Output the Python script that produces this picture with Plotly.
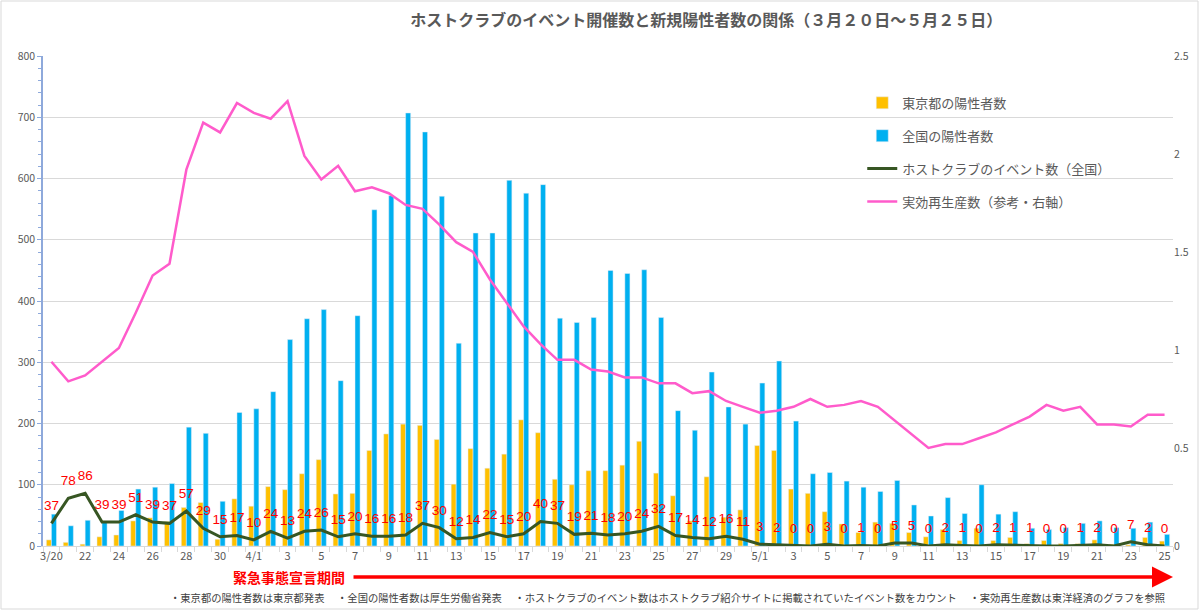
import plotly.graph_objects as go

# ---- data ----
dates = [f"3/{d}" for d in range(20, 32)] + [f"4/{d}" for d in range(1, 31)] + [f"5/{d}" for d in range(1, 26)]

tick_labels = ["3/20", "", "22", "", "24", "", "26", "", "28", "", "30", "",
               "4/1", "", "3", "", "5", "", "7", "", "9", "", "11", "", "13", "", "15", "",
               "17", "", "19", "", "21", "", "23", "", "25", "", "27", "", "29", "",
               "5/1", "", "3", "", "5", "", "7", "", "9", "", "11", "", "13", "", "15", "",
               "17", "", "19", "", "21", "", "23", "", "25"]

tokyo = [10, 6, 3, 15, 18, 41, 46, 40, 63, 71, 11, 77,
         65, 97, 92, 118, 141, 85, 86, 156, 183, 199, 197, 174, 101, 159, 127, 150, 206, 185,
         109, 100, 123, 123, 132, 171, 119, 82, 41, 113, 47, 59,
         164, 156, 93, 86, 56, 36, 22, 39, 37, 22, 15, 27, 9, 29, 9, 14, 4, 9, 4, 4, 10, 3, 2, 14, 8]

national = [52, 33, 42, 39, 58, 93, 96, 102, 194, 184, 73, 218,
            224, 252, 337, 371, 386, 270, 376, 549, 572, 707, 676, 571, 331, 511, 511, 597, 576, 590,
            372, 365, 373, 450, 445, 451, 373, 221, 189, 284, 227, 199,
            266, 302, 204, 118, 120, 106, 96, 89, 107, 67, 49, 79, 53, 100, 52, 56, 29, 27, 30, 37,
            41, 30, 29, 39, 19]

events = [37, 78, 86, 39, 39, 51, 39, 37, 57, 29, 15, 17,
          10, 24, 13, 24, 26, 15, 20, 16, 16, 18, 37, 30, 12, 14, 22, 15, 20, 40, 37, 19,
          21, 18, 20, 24, 32, 17, 14, 12, 16, 11,
          3, 2, 0, 0, 3, 0, 1, 0, 5, 5, 0, 2, 1, 0, 2, 1, 1, 0, 0, 1, 2, 0, 7, 2, 0]

rt = [0.94, 0.84, 0.87, 0.94, 1.01, 1.19, 1.38, 1.44, 1.92, 2.16, 2.11, 2.26,
      2.21, 2.18, 2.27, 1.99, 1.87, 1.94, 1.81, 1.83, 1.80, 1.74, 1.72, 1.64, 1.55, 1.50,
      1.36, 1.24, 1.12, 1.03, 0.95, 0.95, 0.90, 0.89, 0.86, 0.86, 0.83, 0.83, 0.78, 0.79, 0.74, 0.71,
      0.68, 0.69, 0.71, 0.75, 0.71, 0.72, 0.74, 0.71, 0.64, 0.57, 0.50, 0.52, 0.52, 0.55, 0.58,
      0.62, 0.66, 0.72, 0.69, 0.71, 0.62, 0.62, 0.61, 0.67, 0.67]

FONT = "Noto Sans CJK JP"
GRAY = "#595959"

fig = go.Figure()
fig.add_trace(go.Bar(x=dates, y=tokyo, name="東京都の陽性者数", marker_color="#FFC000",
                     legendgroup="a"))
fig.add_trace(go.Bar(x=dates, y=national, name="全国の陽性者数", marker_color="#00B0F0",
                     legendgroup="b"))
fig.add_trace(go.Scatter(x=dates, y=events, name="ホストクラブのイベント数（全国）",
                         mode="lines+markers+text", line=dict(color="#375623", width=3),
                         marker=dict(size=14, color="rgba(0,0,0,0)"),
                         text=[str(v) for v in events], textposition="top center",
                         textfont=dict(color="#FF0000", size=13.5, family="Liberation Sans"),
                         cliponaxis=False, legendgroup="c"))
fig.add_trace(go.Scatter(x=dates, y=rt, name="実効再生産数（参考・右軸）", yaxis="y2",
                         mode="lines", line=dict(color="#FF5BCB", width=2.5),
                         legendgroup="d"))

fig.update_layout(
    width=1200, height=612,
    margin=dict(l=43, r=27, t=56, b=66),
    paper_bgcolor="white", plot_bgcolor="white",
    font=dict(family=FONT, color=GRAY),
    barmode="group", bargap=0.4, bargroupgap=0,
    showlegend=True,
    legend=dict(x=0.725, y=0.935, xanchor="left", yanchor="top",
                font=dict(size=13, color=GRAY, family=FONT),
                tracegroupgap=13, bgcolor="rgba(0,0,0,0)", itemwidth=30),
    title=dict(text="<b>ホストクラブのイベント開催数と新規陽性者数の関係（３月２０日～５月２５日）</b>",
               x=0.587, xref="paper", xanchor="center", y=0.967, yref="container", yanchor="middle",
               font=dict(size=16, color=GRAY, family=FONT)),
    xaxis=dict(type="category", categoryorder="array", categoryarray=dates,
               tickmode="array", tickvals=dates, ticktext=tick_labels, tickangle=0,
               tickson="boundaries", ticks="outside", ticklen=5, tickcolor="#D9D9D9",
               showline=True, linecolor="#D9D9D9", linewidth=1, showgrid=False, automargin=False,
               tickfont=dict(size=11, color=GRAY), range=[-0.5, 66.5]),
    yaxis=dict(range=[0, 800], dtick=100, showgrid=True, gridcolor="#D9D9D9", gridwidth=1,
               showline=True, linecolor="#8EA9DB", linewidth=1.5, automargin=False,
               ticks="outside", ticklen=4, tickcolor="#8EA9DB",
               minor=dict(dtick=20, ticks="outside", ticklen=3, tickcolor="#8EA9DB", showgrid=False),
               tickfont=dict(size=10.5, color=GRAY), zeroline=False),
    yaxis2=dict(range=[0, 2.5], dtick=0.5, overlaying="y", side="right", showgrid=False,
                showline=False, zeroline=False, automargin=False,
                tickfont=dict(size=10.5, color=GRAY)),
)

# chart border
fig.add_shape(type="rect", xref="paper", yref="paper",
              x0=-42 / 1130, x1=1155 / 1130, y0=-63 / 490, y1=545 / 490,
              line=dict(color="#D9D9D9", width=1), fillcolor="rgba(0,0,0,0)", layer="below")

# emergency period arrow
fig.add_annotation(xref="paper", yref="paper", x=(1173 - 43) / 1130, y=-31 / 490,
                   ax=-(1173 - 352), ay=0, axref="pixel", ayref="pixel",
                   showarrow=True, arrowhead=2, arrowsize=1.2, arrowwidth=3.5,
                   arrowcolor="#FF0000", text="")
fig.add_annotation(xref="paper", yref="paper", x=(347 - 43) / 1130, y=-31 / 490,
                   xanchor="right", yanchor="middle", showarrow=False,
                   text="<b>緊急事態宣言期間</b>", font=dict(size=14, color="#FF0000", family=FONT))

# footnote
fig.add_annotation(xref="paper", yref="paper", x=(667 - 43) / 1130, y=-51 / 490,
                   xanchor="center", yanchor="middle", showarrow=False,
                   text="・東京都の陽性者数は東京都発表　 ・全国の陽性者数は厚生労働省発表　 "
                        "・ホストクラブのイベント数はホストクラブ紹介サイトに掲載されていたイベント数をカウント　 "
                        "・実効再生産数は東洋経済のグラフを参照",
                   font=dict(size=10.3, color="#404040", family=FONT))

fig.write_html("out.html", config={"displayModeBar": False},
               post_script="document.body.style.margin='0';document.body.style.overflow='hidden';")
